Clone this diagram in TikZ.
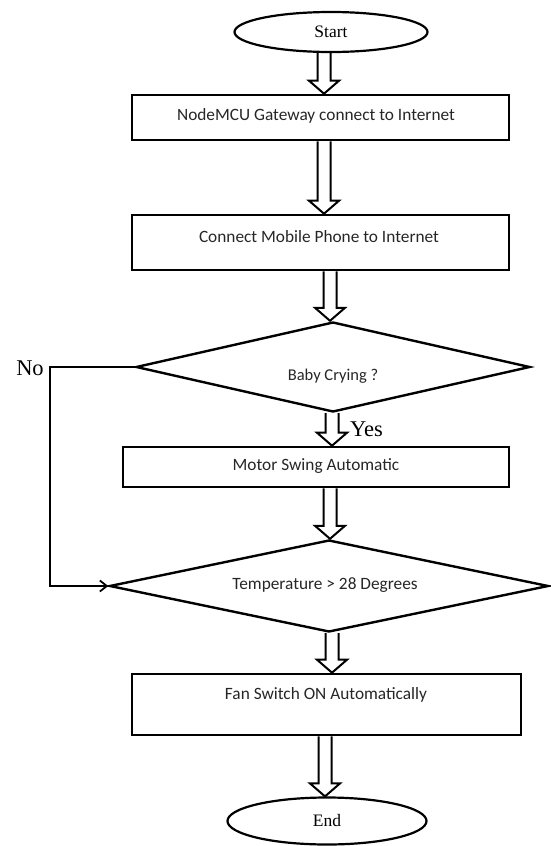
\documentclass[tikz,border=0pt]{standalone}
\usepackage{fontspec}
\setmainfont{Liberation Serif}
\newfontfamily\boxfont{Carlito}
\usetikzlibrary{shapes.geometric,arrows.meta,calc}
\tikzset{
  procbox/.style={draw, rectangle, line width=2.6pt, inner sep=0pt},
  decbox/.style={draw, diamond, line width=2.4pt, inner sep=0pt},
  termbox/.style={draw, ellipse, line width=2.2pt, inner sep=0pt},
  boxtext/.style={font=\boxfont\fontsize{17.3}{20}\selectfont, inner sep=0pt, text=black!85},
  serifbig/.style={font=\fontsize{17.5}{20}\selectfont, inner sep=0pt},
  seriflabel/.style={font=\fontsize{22.5}{26}\selectfont, inner sep=0pt},
  hollowarrow/.style={draw, line width=2pt, line join=miter},
  noline/.style={draw, line width=1.8pt, -{Straight Barb[length=7pt,width=11pt,line width=1.8pt]}}
}
\newcommand\harrow[3][0]{\draw[hollowarrow] let \p1=(#2), \p2=(#3) in
  (\x1+#1pt-6.5pt,\y1) -- (\x1+#1pt-6.5pt,\y2+13pt) -- (\x1+#1pt-15pt,\y2+13pt)
  -- (\x1+#1pt,\y2) -- (\x1+#1pt+15pt,\y2+13pt) -- (\x1+#1pt+6.5pt,\y2+13pt)
  -- (\x1+#1pt+6.5pt,\y1);}
\begin{document}
\begin{tikzpicture}[x=1pt,y=-1pt]
\useasboundingbox (0,0) rectangle (551,846);
% terminals
\node[termbox, minimum width=193pt, minimum height=40pt] (start) at (331,32) {};
\node[serifbig] (starttxt) at (331,32) {Start};
\node[termbox, minimum width=199pt, minimum height=47pt] (end) at (327,821) {};
\node[serifbig] (endtxt) at (327,821) {End};
% process boxes
\node[procbox, minimum width=377pt, minimum height=45pt] (b1) at (320.5,117.5) {};
\node[boxtext] (b1txt) at (316,116) {NodeMCU Gateway connect to Internet};
\node[procbox, minimum width=377pt, minimum height=55pt] (b2) at (320.5,242.5) {};
\node[boxtext] (b2txt) at (319,237) {Connect Mobile Phone to Internet};
\node[procbox, minimum width=386pt, minimum height=40pt] (b3) at (316,467) {};
\node[boxtext] (b3txt) at (316,466) {Motor Swing Automatic};
\node[procbox, minimum width=389pt, minimum height=61pt] (b4) at (326.5,704.5) {};
\node[boxtext] (b4txt) at (326,695) {Fan Switch ON Automatically};
% decisions
\node[decbox, minimum width=394pt, minimum height=90pt] (d1) at (333,367) {};
\node[boxtext, font=\boxfont\fontsize{16.5}{20}\selectfont] (d1txt) at (333,376) {Baby Crying ?};
\node[decbox, minimum width=439pt, minimum height=92pt] (d2) at (329,586) {};
\node[boxtext] (d2txt) at (325,585) {Temperature > 28 Degrees};
% labels
\node[seriflabel] (no) at (30,368) {No};
\node[seriflabel, anchor=west] (yes) at (350,429) {Yes};
% hollow arrows
\harrow[-7]{start.south}{b1.north}
\harrow[3.5]{b1.south}{b2.north}
\harrow[9.5]{b2.south}{d1.north}
\harrow[-1]{d1.south}{b3.north}
\harrow[14]{b3.south}{d2.north}
\harrow[3]{d2.south}{b4.north}
\harrow[-1.5]{b4.south}{end.north}
% No branch
\draw[noline] (d1.west) -- ++(-85,0) |- (d2.west);
\end{tikzpicture}
\end{document}
